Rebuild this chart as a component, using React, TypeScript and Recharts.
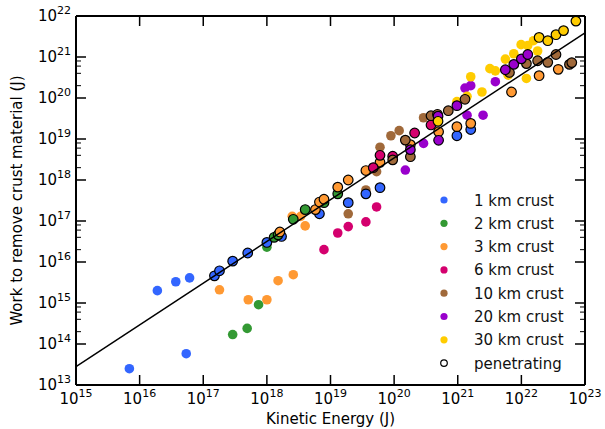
import { ScatterChart, Scatter, XAxis, YAxis, Legend, Label, ReferenceLine } from "recharts";

const FONT = "DejaVu Sans, sans-serif";

// [kinetic energy (J), work (J), penetrating 0/1]
const crust1 = [
  [6.9e15, 2.5e13, 0], [1.9e16, 2.0e15, 0], [3.7e16, 3.3e15, 0], [6.1e16, 4.1e15, 0], [5.4e16, 5.8e13, 0],
  [1.5e17, 4.6e15, 1], [1.8e17, 6.1e15, 1], [2.9e17, 1.05e16, 1], [5.0e17, 1.66e16, 1], [1.0e18, 3.0e16, 1],
  [1.7e18, 4.2e16, 1], [6.7e18, 1.5e17, 1], [1.9e19, 2.8e17, 1], [3.6e19, 4.6e17, 1], [6.0e19, 6.5e17, 1],
  [9.7e20, 1.2e19, 1], [1.6e21, 1.7e19, 1],
];
const crust2 = [
  [2.9e17, 1.7e14, 0], [4.9e17, 2.4e14, 0], [7.4e17, 9.1e14, 0], [1.0e18, 2.3e16, 0],
  [1.3e18, 4.0e16, 1], [1.5e18, 4.6e16, 1], [2.6e18, 1.1e17, 1], [4.0e18, 1.9e17, 1], [7.9e18, 2.8e17, 1],
  [1.3e19, 4.6e17, 1],
];
const crust3 = [
  [1.8e17, 2.1e15, 0], [5.1e17, 1.2e15, 0], [1.0e18, 1.2e15, 0], [1.5e18, 3.5e15, 0], [2.6e18, 4.9e15, 0],
  [2.5e18, 1.3e17, 0], [3.4e18, 1.3e17, 0], [4.0e18, 7.6e16, 0],
  [1.6e18, 5.4e16, 1], [5.8e18, 1.9e17, 1], [6.7e18, 2.9e17, 1], [7.9e18, 3.4e17, 1], [1.3e19, 6.7e17, 1],
  [1.9e19, 1.0e18, 1], [3.6e19, 1.7e18, 1], [6.0e19, 2.7e18, 1], [1.8e20, 7.3e18, 1], [5.0e20, 1.5e19, 1],
  [9.7e20, 2.0e19, 1], [1.6e21, 2.4e19, 1], [7.0e21, 1.4e20, 1], [1.9e22, 3.5e20, 1], [3.8e22, 5.0e20, 1],
];
const crust6 = [
  [7.9e18, 2.0e16, 0], [1.3e19, 5.1e16, 0], [1.9e19, 7.3e16, 0], [3.6e19, 9.5e16, 0], [5.3e19, 2.2e17, 0],
  [4.7e19, 2.0e18, 1], [6.0e19, 4.0e18, 1], [9.5e19, 3.8e18, 1], [2.1e20, 1.4e19, 1], [3.8e20, 2.2e19, 1],
];
const crust10 = [
  [1.9e19, 1.5e17, 0], [3.6e19, 5.7e17, 0], [5.3e19, 1.6e18, 0], [6.0e19, 6.3e18, 0], [8.9e19, 1.2e19, 0],
  [1.2e20, 1.6e19, 0], [2.9e20, 3.3e19, 0],
  [9.5e19, 3.1e18, 1], [1.5e20, 9.4e18, 1], [1.8e20, 3.7e18, 1], [3.8e20, 3.7e19, 1], [4.8e20, 4.0e19, 1],
  [7.1e20, 4.9e19, 1], [1.3e21, 9.3e19, 1], [6.5e21, 4.2e20, 1], [1.2e22, 6.9e20, 1], [1.8e22, 8.1e20, 1],
  [2.6e22, 7.4e20, 1], [3.5e22, 1.15e21, 1], [5.7e22, 6.6e20, 1], [6.2e22, 7.3e20, 1],
];
const crust20 = [
  [1.5e20, 1.75e18, 0], [2.9e20, 7.8e18, 0], [1.3e21, 1.75e20, 0], [1.6e21, 2.0e20, 0], [1.4e21, 3.8e19, 0],
  [2.5e21, 3.8e19, 0], [3.9e21, 2.5e20, 0],
  [1.8e20, 5.5e18, 1], [5.0e20, 9.3e18, 1], [4.9e20, 3.6e19, 1], [9.7e20, 6.5e19, 1], [5.6e21, 4.9e20, 1],
  [7.6e21, 6.6e20, 1], [1.0e22, 9.0e20, 1], [1.26e22, 1.15e21, 1],
];
const crust30 = [
  [9.7e20, 8.2e19, 0], [1.4e21, 1.1e20, 0], [1.6e21, 3.3e20, 0], [2.4e21, 1.4e20, 0], [3.2e21, 5.2e20, 0],
  [3.9e21, 4.6e20, 0], [5.6e21, 8.9e20, 0], [6.2e21, 3.6e20, 0], [7.6e21, 1.2e21, 0], [9.9e21, 2.0e21, 0],
  [1.26e22, 1.9e21, 0], [1.55e22, 2.5e21, 0], [1.8e22, 1.4e21, 0], [1.2e22, 3.0e20, 0],
  [4.9e20, 2.7e19, 1], [1.9e22, 3.0e21, 1], [2.6e22, 2.5e21, 1], [3.5e22, 3.5e21, 1], [4.6e22, 4.4e21, 1],
  [7.2e22, 7.5e21, 1],
];

const fitX = [1e15, 1e23];
const fitY = [2.8e13, 3.9e21];

const X_TICKS = [1e15, 1e16, 1e17, 1e18, 1e19, 1e20, 1e21, 1e22, 1e23];
const Y_MAJOR = [1e13, 1e14, 1e15, 1e16, 1e17, 1e18, 1e19, 1e20, 1e21, 1e22];
const Y_MINOR = [2e20, 4e20, 6e20, 8e20, 2e18, 4e18, 6e18, 8e18, 2e16, 4e16, 6e16, 8e16, 2e14, 4e14, 6e14, 8e14];
const Y_TICKS = [...Y_MAJOR, ...Y_MINOR].sort((a, b) => a - b);

const GROUPS = [
  { name: "1 km crust", color: "#3366ff", rows: crust1 },
  { name: "2 km crust", color: "#339933", rows: crust2 },
  { name: "3 km crust", color: "#ff9933", rows: crust3 },
  { name: "6 km crust", color: "#d4006e", rows: crust6 },
  { name: "10 km crust", color: "#a0693a", rows: crust10 },
  { name: "20 km crust", color: "#9900cc", rows: crust20 },
  { name: "30 km crust", color: "#ffcc00", rows: crust30 },
];

const W = 605, H = 429;
const MARGIN = { top: 16, right: 20, bottom: 0, left: 0 };
const X_AXIS_H = 44, Y_AXIS_W = 76;
// plot box size, used to mirror the ticks onto the top and right edges
const PLOT_W = W - MARGIN.left - MARGIN.right - Y_AXIS_W;
const PLOT_H = H - MARGIN.top - MARGIN.bottom - X_AXIS_H;

const toPts = (rows: number[][], pen: number) =>
  rows.filter(r => r[2] === pen).map(r => ({ x: r[0], y: r[1] }));

const fitLine = fitX.map((x, i) => ({ x, y: fitY[i] }));

const isMajor = (v: number) => {
  const e = Math.log10(v);
  return Math.abs(e - Math.round(e)) < 1e-6;
};

const BottomTick = ({ x, y, payload }: any) => {
  const e = Math.round(Math.log10(payload.value));
  return (
    <g>
      <line x1={x} x2={x} y1={y} y2={y - 10} stroke="#000" strokeWidth={1.5} />
      <line x1={x} x2={x} y1={y - PLOT_H} y2={y - PLOT_H + 10} stroke="#000" strokeWidth={1.5} />
      <text x={x} y={y + 19} textAnchor="middle" fontFamily={FONT} fontSize={15} fill="#000">
        10<tspan dy={-7} fontSize={11}>{e}</tspan>
      </text>
    </g>
  );
};

const LeftTick = ({ x, y, payload }: any) => {
  const major = isMajor(payload.value);
  const e = Math.round(Math.log10(payload.value));
  const len = major ? 10 : 5;
  const sw = major ? 1.5 : 1;
  return (
    <g>
      <line x1={x} x2={x + len} y1={y} y2={y} stroke="#000" strokeWidth={sw} />
      <line x1={x + PLOT_W} x2={x + PLOT_W - len} y1={y} y2={y} stroke="#000" strokeWidth={sw} />
      {major && (
        <text x={x - 5} y={y + 5} textAnchor="end" fontFamily={FONT} fontSize={15} fill="#000">
          10<tspan dy={-7} fontSize={11}>{e}</tspan>
        </text>
      )}
    </g>
  );
};

const LegendBox = () => (
  <svg width={160} height={190}>
    {GROUPS.map((g, i) => (
      <g key={g.name}>
        <circle cx={10} cy={12 + i * 23.3} r={3.6} fill={g.color} />
        <text x={40} y={17.5 + i * 23.3} fontFamily={FONT} fontSize={15} fill="#111">{g.name}</text>
      </g>
    ))}
    <circle cx={10} cy={12 + 7 * 23.3} r={3.3} fill="none" stroke="#000" strokeWidth={1.2} />
    <text x={40} y={17.5 + 7 * 23.3} fontFamily={FONT} fontSize={15} fill="#111">penetrating</text>
  </svg>
);

const YTitle = ({ viewBox }: any) => {
  const cx = viewBox.x + 22;
  const cy = viewBox.y + viewBox.height / 2;
  return (
    <text x={cx} y={cy} transform={`rotate(-90 ${cx} ${cy})`} textAnchor="middle" fontFamily={FONT} fontSize={15} fill="#000">
      Work to remove crust material (J)
    </text>
  );
};

export default function App() {
  return (
    <div style={{ position: "absolute", left: 0, top: 0, width: W, height: H, background: "#fff" }}>
      <ScatterChart width={W} height={H} margin={MARGIN}>
        <XAxis dataKey="x" type="number" scale="log" domain={[1e15, 1e23]} allowDataOverflow
          ticks={X_TICKS} interval={0} tickSize={0} tickMargin={0} height={X_AXIS_H}
          axisLine={{ stroke: "#000", strokeWidth: 2 }} tickLine={false} tick={<BottomTick />}>
          <Label value="Kinetic Energy (J)" position="insideBottom" offset={5} fontFamily={FONT} fontSize={15} fill="#000" />
        </XAxis>
        <YAxis dataKey="y" type="number" scale="log" domain={[1e13, 1e22]} allowDataOverflow
          ticks={Y_TICKS} interval={0} tickSize={0} tickMargin={0} width={Y_AXIS_W}
          axisLine={{ stroke: "#000", strokeWidth: 2 }} tickLine={false} tick={<LeftTick />}
          label={{ content: <YTitle /> }} />
        <ReferenceLine y={1e22} stroke="#000" strokeWidth={2} />
        <ReferenceLine x={1e23} stroke="#000" strokeWidth={2} />
        {GROUPS.map(g => (
          <Scatter key={g.name + "-f"} name={g.name} data={toPts(g.rows, 0)} isAnimationActive={false}
            shape={(p: any) => <circle cx={p.cx} cy={p.cy} r={4.8} fill={g.color} />} />
        ))}
        {GROUPS.map(g => (
          <Scatter key={g.name + "-p"} name={g.name + " pen"} data={toPts(g.rows, 1)} isAnimationActive={false}
            shape={(p: any) => <circle cx={p.cx} cy={p.cy} r={4.8} fill={g.color} stroke="#000" strokeWidth={1.2} />} />
        ))}
        <Scatter name="fit" data={fitLine} isAnimationActive={false} line={{ stroke: "#000", strokeWidth: 1.5 }}
          shape={() => <g />} legendType="none" />
        <Legend layout="vertical" align="center" verticalAlign="middle" content={<LegendBox />}
          wrapperStyle={{ left: 434, top: 188, width: 160 }} />
      </ScatterChart>
    </div>
  );
}
